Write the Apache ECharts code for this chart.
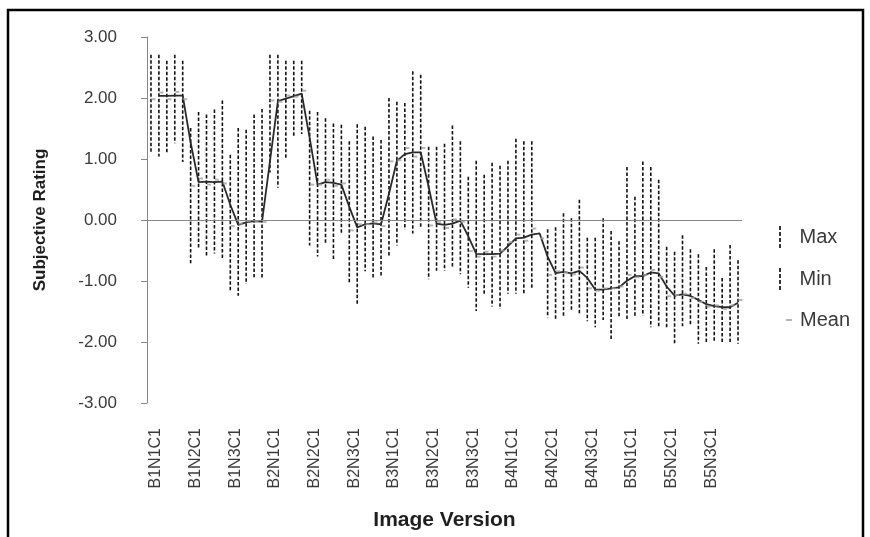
<!DOCTYPE html>
<html>
<head>
<meta charset="utf-8">
<title>Subjective Rating by Image Version</title>
<script src="https://cdn.jsdelivr.net/npm/echarts@6/dist/echarts.min.js"></script>
<style>
  html, body { margin: 0; padding: 0; background: #ffffff; }
  #chart { width: 870px; height: 537px; }
</style>
</head>
<body>
<div id="chart"></div>
<script>
// Image versions: blur level (B), noise level (N), condition (C)
const categories = [
  'B1N1C1','B1N1C2','B1N1C3','B1N1C4','B1N1C5',
  'B1N2C1','B1N2C2','B1N2C3','B1N2C4','B1N2C5',
  'B1N3C1','B1N3C2','B1N3C3','B1N3C4','B1N3C5',
  'B2N1C1','B2N1C2','B2N1C3','B2N1C4','B2N1C5',
  'B2N2C1','B2N2C2','B2N2C3','B2N2C4','B2N2C5',
  'B2N3C1','B2N3C2','B2N3C3','B2N3C4','B2N3C5',
  'B3N1C1','B3N1C2','B3N1C3','B3N1C4','B3N1C5',
  'B3N2C1','B3N2C2','B3N2C3','B3N2C4','B3N2C5',
  'B3N3C1','B3N3C2','B3N3C3','B3N3C4','B3N3C5',
  'B4N1C1','B4N1C2','B4N1C3','B4N1C4','B4N1C5',
  'B4N2C1','B4N2C2','B4N2C3','B4N2C4','B4N2C5',
  'B4N3C1','B4N3C2','B4N3C3','B4N3C4','B4N3C5',
  'B5N1C1','B5N1C2','B5N1C3','B5N1C4','B5N1C5',
  'B5N2C1','B5N2C2','B5N2C3','B5N2C4','B5N2C5',
  'B5N3C1','B5N3C2','B5N3C3','B5N3C4','B5N3C5'
];

const maxValues = [
  2.71, 2.71, 2.61, 2.71, 2.61,
  1.51, 1.77, 1.73, 1.81, 1.96,
  1.07, 1.51, 1.48, 1.73, 1.82,
  2.71, 2.71, 2.61, 2.61, 2.61,
  1.79, 1.77, 1.67, 1.58, 1.56,
  1.29, 1.57, 1.53, 1.37, 1.31,
  2.00, 1.94, 1.92, 2.44, 2.38,
  1.20, 1.20, 1.25, 1.55, 1.29,
  0.71, 0.97, 0.74, 0.94, 0.89,
  0.97, 1.33, 1.29, 1.29, null,
  -0.15, -0.12, 0.11, 0.03, 0.33,
  -0.29, -0.29, 0.03, -0.18, -0.35,
  0.87, 0.38, 0.96, 0.87, 0.66,
  -0.44, -0.52, -0.25, -0.48, -0.56,
  -0.77, -0.48, -0.95, -0.41, -0.66
];

const minValues = [
  1.11, 1.04, 1.11, 1.26, 0.95,
  -0.71, -0.47, -0.59, -0.55, -0.65,
  -1.16, -1.24, -1.05, -0.94, -0.97,
  0.78, 0.53, 0.99, 1.38, 1.41,
  -0.42, -0.60, -0.40, -0.64, -0.23,
  -1.05, -1.38, -0.84, -0.97, -0.93,
  -0.60, -0.42, -0.16, -0.22, -0.12,
  -0.97, -0.83, -0.83, -0.79, -0.89,
  -1.11, -1.49, -1.23, -1.42, -1.46,
  -1.21, -1.21, -1.20, -1.11, null,
  -1.60, -1.64, -1.57, -1.50, -1.55,
  -1.66, -1.76, -1.64, -1.98, -1.59,
  -1.64, -1.57, -1.57, -1.76, -1.74,
  -1.76, -2.03, -1.74, -1.71, -2.03,
  -2.01, -1.98, -2.03, -2.03, -2.03
];

const meanValues = [
  1.98, 2.09, 1.98, 2.10, 1.98,
  0.56, 0.68, 0.58, 0.66, 0.60,
  -0.10, -0.06, -0.02, -0.02, -0.03,
  1.96, 1.94, 2.04, 2.02, 2.12,
  0.58, 0.58, 0.66, 0.56, 0.60,
  -0.17, -0.07, -0.07, -0.04, -0.10,
  0.96, 0.98, 1.18, 1.04, 1.18,
  -0.09, -0.03, -0.13, 0.01, -0.03,
  -0.51, -0.60, -0.52, -0.60, -0.50,
  -0.36, -0.24, -0.34, -0.14, -0.30,
  -0.90, -0.84, -0.86, -0.89, -0.78,
  -1.12, -1.16, -1.12, -1.12, -1.09,
  -0.90, -0.94, -0.90, -0.82, -0.93,
  -1.25, -1.23, -1.21, -1.28, -1.34,
  -1.42, -1.40, -1.46, -1.40, -1.31
];

const yTicks = { min: -3, max: 3, interval: 1 };

// Two-period moving-average trendline of the mean ratings
const trendValues = meanValues.map((v, i) =>
  i === 0 ? null : +((meanValues[i - 1] + v) / 2).toFixed(3)
);

const FONT = 'Liberation Sans';
const AXIS_GREY = '#878787';
const TEXT = '#3a3a3a';
const dashIcon = 'path://M0,0h2v4h-2z M0,6h2v4h-2z M0,12h2v4h-2z M0,18h2v4h-2z';

const chart = echarts.init(document.getElementById('chart'), null, { renderer: 'canvas' });

const legendBase = {
  orient: 'vertical',
  padding: 0,
  selectedMode: false,
  textStyle: { fontFamily: FONT, fontSize: 20, color: TEXT }
};

chart.setOption({
  animation: false,
  backgroundColor: '#ffffff',
  graphic: [{
    type: 'rect',
    silent: true,
    shape: { x: 8, y: 10, width: 855, height: 560 },
    style: { fill: 'none', stroke: '#000000', lineWidth: 2.5 }
  }],
  legend: [
    Object.assign({}, legendBase, {
      data: [{ name: 'Max', icon: dashIcon }],
      left: 779, top: 226, itemWidth: 29, itemHeight: 22
    }),
    Object.assign({}, legendBase, {
      data: [{ name: 'Min', icon: dashIcon }],
      left: 779, top: 268, itemWidth: 29, itemHeight: 22
    }),
    Object.assign({}, legendBase, {
      data: [{ name: 'Mean', icon: 'path://M0,0h6v2h-6z' }],
      left: 786, top: 310, itemWidth: 12, itemHeight: 2
    })
  ],
  grid: { left: 147, right: 128, top: 37, bottom: 134, containLabel: false },
  xAxis: {
    type: 'category',
    data: categories,
    boundaryGap: true,
    name: 'Image Version',
    nameLocation: 'middle',
    nameGap: 107,
    nameTextStyle: { fontFamily: FONT, fontSize: 21, fontWeight: 'bold', color: '#1e1e1e' },
    axisLine: { show: false, onZero: false },
    axisTick: { show: false },
    axisLabel: {
      interval: 4,
      rotate: 90,
      margin: 25,
      verticalAlign: 'top',
      lineHeight: 10,
      fontFamily: FONT,
      fontSize: 16,
      color: TEXT
    },
    splitLine: { show: false }
  },
  yAxis: {
    type: 'value',
    min: yTicks.min,
    max: yTicks.max,
    interval: yTicks.interval,
    name: 'Subjective Rating',
    nameLocation: 'middle',
    nameRotate: 90,
    nameGap: 98,
    nameTextStyle: { fontFamily: FONT, fontSize: 17, fontWeight: 'bold', color: '#1e1e1e' },
    axisLine: { show: true, lineStyle: { color: AXIS_GREY, width: 1 } },
    axisTick: { show: true, inside: false, length: 6, lineStyle: { color: AXIS_GREY } },
    axisLabel: {
      margin: 30,
      fontFamily: FONT,
      fontSize: 17,
      color: TEXT,
      formatter: v => v.toFixed(2)
    },
    splitLine: { show: false }
  },
  series: [
    {
      name: 'Max',
      type: 'scatter',
      data: maxValues,
      symbolSize: 0,
      itemStyle: { color: '#000000' },
      silent: true
    },
    {
      name: 'Min',
      type: 'scatter',
      data: minValues,
      symbolSize: 0,
      itemStyle: { color: '#000000' },
      silent: true
    },
    {
      name: 'High-Low',
      type: 'custom',
      silent: true,
      data: categories.map((c, i) => [i, maxValues[i], minValues[i]]),
      encode: { x: 0, y: [1, 2] },
      renderItem: function (params, api) {
        const hi = api.value(1);
        const lo = api.value(2);
        if (hi == null || lo == null || isNaN(hi) || isNaN(lo)) return null;
        const top = api.coord([api.value(0), hi]);
        const bottom = api.coord([api.value(0), lo]);
        return {
          type: 'line',
          shape: { x1: top[0], y1: top[1], x2: bottom[0], y2: bottom[1] },
          style: { stroke: '#111111', lineWidth: 1.6, lineDash: [3.5, 2] }
        };
      },
      z: 2
    },
    {
      name: 'Trend',
      type: 'line',
      data: trendValues,
      showSymbol: false,
      symbol: 'none',
      connectNulls: false,
      lineStyle: { color: '#2a2a2a', width: 1.8 },
      silent: true,
      z: 3,
      markLine: {
        silent: true,
        symbol: 'none',
        label: { show: false },
        lineStyle: { color: AXIS_GREY, type: 'solid', width: 1 },
        data: [{ yAxis: 0 }]
      }
    },
    {
      name: 'Mean',
      type: 'scatter',
      data: meanValues,
      symbol: 'rect',
      symbolSize: [4, 2],
      symbolOffset: [2.5, 0],
      itemStyle: { color: '#a3a3a3' },
      silent: true,
      z: 4
    }
  ]
});
</script>
</body>
</html>
